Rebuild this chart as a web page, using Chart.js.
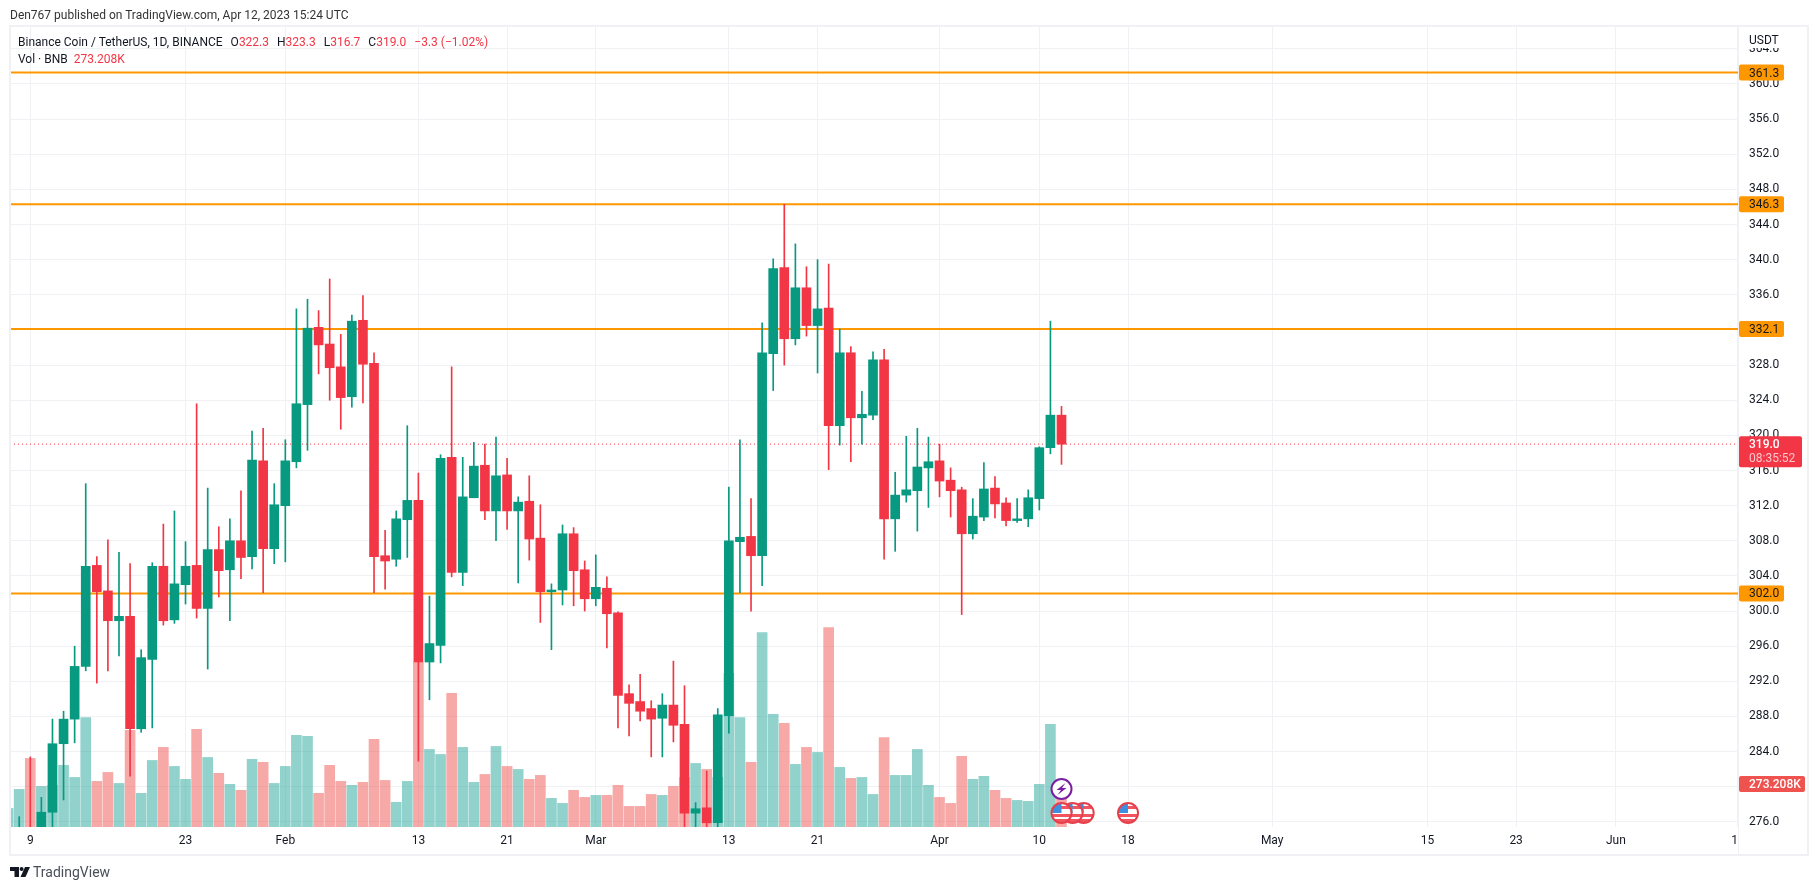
<!DOCTYPE html>
<html>
<head>
<meta charset="utf-8">
<title>BNBUSDT 1D</title>
<script src="https://cdn.jsdelivr.net/npm/chart.js@4/dist/chart.umd.min.js"></script>
<style>
  html, body { margin: 0; padding: 0; background: #fff; width: 1819px; height: 890px; overflow: hidden; }
  body { position: relative; font-family: Roboto, sans-serif; color: #131722; }
  #wrap { position: absolute; left: 0; top: 0; width: 1819px; height: 890px; }
  .txt { position: absolute; white-space: nowrap; font-size: 12px; line-height: 14px; }
  .red { color: #F23645; }
  #legend1 span { margin-left: 8px; }
  #logo { position: absolute; left: 10px; top: 867px; }
  #logoText { position: absolute; left: 33px; top: 864px; font-size: 14px; line-height: 16px; color: #4a4e59; }
</style>
</head>
<body>
<div id="wrap"><canvas id="chart" width="1819" height="890"></canvas></div>
<div class="txt" style="left:10px;top:8px;color:#333">Den767 published on TradingView.com, Apr 12, 2023 15:24 UTC</div>
<div class="txt" id="legend1" style="left:18px;top:35px">Binance Coin / TetherUS, 1D, BINANCE<span>O<b class="red" style="font-weight:400">322.3</b></span><span>H<b class="red" style="font-weight:400">323.3</b></span><span>L<b class="red" style="font-weight:400">316.7</b></span><span>C<b class="red" style="font-weight:400">319.0</b></span><span class="red">−3.3 (−1.02%)</span></div>
<div class="txt" style="left:18px;top:52px">Vol · BNB <span class="red" style="margin-left:3px">273.208K</span></div>
<svg id="logo" width="20" height="10" viewBox="0 0 20 10"><path fill="#131722" d="M0 0h9v10H4.5V4H0z"/><circle fill="#131722" cx="11.6" cy="2" r="2"/><path fill="#131722" d="M15 0h5l-4.5 10h-5z"/></svg>
<div id="logoText">TradingView</div>
<script>
// candles by day, first entry is Jan 7, chart days counted from Jan 9
const firstDay = -2;

const opens = [
  274, 274, 275, 275, 277.1, 284.9, 287.7, 293.7, 305.2, 302.3,
  298.9, 299.4, 286.6, 294.5, 305.1, 299, 303, 305.2, 300.3, 307,
  304.7, 308, 306.2, 317.1, 307.1, 312, 317, 323.5, 332.3, 330.4,
  327.8, 324.4, 333.1, 328.2, 306.3, 305.9, 310.4, 312.6, 294.2, 296.1,
  317.5, 304.4, 312.9, 316.6, 311.4, 315.5, 311.4, 312.5, 308.3, 302.2,
  302.4, 308.8, 304.7, 301.4, 302.6, 299.8, 290.6, 289.7, 288.9, 287.8,
  289.3, 287.1, 277, 277.6, 275.9, 288.1, 307.9, 308.5, 306.3, 329.3,
  339.1, 331, 336.8, 332.5, 334.5, 321.1, 329.4, 322, 322.3, 328.6,
  310.5, 313.2, 313.7, 316.3, 317.1, 314.9, 313.8, 308.8, 310.7, 314,
  312.3, 310.3, 310.5, 312.8, 318.6, 322.3
];
const highs = [
  275, 276.6, 283.4, 278.8, 287.7, 288.6, 296, 314.5, 306.2, 308.1,
  306.7, 305.4, 295.6, 305.5, 309.9, 311.4, 307.9, 323.6, 314, 309.6,
  310.5, 313.7, 320.5, 320.8, 314.5, 319.5, 334.4, 335.5, 334.2, 337.8,
  331.5, 333.7, 335.9, 329.4, 309.2, 311.4, 321.1, 315.7, 301.7, 317.8,
  327.8, 317.5, 319.2, 319, 319.8, 317.4, 313, 315.4, 312.1, 303.1,
  309.8, 309.5, 305.7, 306.4, 303.9, 299.9, 291.6, 292.8, 289.8, 290.6,
  294.3, 291.5, 278.2, 281.8, 288.9, 314.1, 319.5, 312.8, 332.8, 340.1,
  346.3, 341.8, 339.2, 340, 339.5, 332.1, 330.1, 325, 329.5, 329.8,
  315.8, 319.9, 320.8, 319.8, 319, 316.3, 314.1, 312.8, 316.9, 315.3,
  312.9, 312.8, 313.8, 318.7, 333, 323.3
];
const lows = [
  273, 273, 273, 274, 275, 278.5, 285, 293.2, 291.8, 293.2,
  294.9, 281.2, 286.2, 286.7, 298.4, 298.6, 300.8, 299.2, 293.4, 301.6,
  298.9, 303.7, 304.8, 302.1, 305.4, 305.6, 316.3, 318.3, 327, 324,
  320.7, 323.2, 323.7, 302.1, 302.5, 305.1, 306.1, 282.9, 289.9, 294.1,
  303.9, 302.9, 312.9, 310.4, 308, 309.3, 303.2, 305.8, 298.7, 295.6,
  300.7, 300.6, 300, 300.6, 295.8, 286.7, 285.8, 287.5, 283.4, 283.4,
  285.1, 275, 275, 275, 275, 286.1, 302.1, 300, 302.9, 325.1,
  328, 330.3, 331.3, 327.1, 316.1, 318.9, 317, 319, 321.8, 305.9,
  306.8, 312.4, 309.1, 311.8, 313, 310.7, 299.6, 308.2, 310.3, 310.6,
  309.7, 310.1, 309.6, 311.5, 317.9, 316.7
];
const closes = [
  274.5, 275, 274, 277.1, 284.9, 287.7, 293.7, 305.1, 302.2, 298.9,
  299.4, 286.6, 294.7, 305.1, 298.9, 303.1, 305.1, 300.3, 307, 304.6,
  308, 306.1, 317.2, 307.1, 312.1, 317.1, 323.6, 332.2, 330.3, 327.7,
  324.3, 333, 328.1, 306.2, 305.7, 310.5, 312.6, 294.2, 296.3, 317.4,
  304.4, 313, 316.5, 311.4, 315.4, 311.4, 312.4, 308.2, 302.2, 302.4,
  308.8, 304.6, 301.4, 302.7, 299.7, 290.4, 289.5, 288.6, 287.7, 289.3,
  287, 277, 277.5, 275.9, 288.2, 308, 308.4, 306.3, 329.4, 339,
  331, 336.8, 332.5, 334.4, 321.1, 329.4, 322, 322.4, 328.6, 310.5,
  313.2, 313.8, 316.4, 317, 314.8, 313.7, 308.8, 310.8, 313.9, 312.2,
  310.3, 310.5, 312.9, 318.6, 322.3, 319
];
// volume in thousands of BNB
const volumes = [
  118, 239, 436, 258, 265, 392, 315, 696, 290, 347,
  277, 614, 214, 423, 506, 385, 303, 620, 442, 341,
  271, 233, 430, 411, 277, 385, 582, 576, 214, 392,
  290, 265, 284, 557, 296, 157, 290, 1048, 493, 461,
  849, 506, 284, 334, 512, 385, 366, 303, 328, 182,
  150, 233, 188, 201, 201, 265, 131, 131, 207, 201,
  258, 315, 404, 366, 315, 976, 696, 411, 1236, 716,
  658, 398, 506, 474, 1268, 379, 309, 315, 207, 569,
  328, 328, 493, 265, 188, 150, 449, 303, 322, 233,
  182, 169, 163, 271, 652, 273.208
];

const levels = [361.3, 346.3, 332.1, 302.0];
const lastPrice = 319.0;
const lastVolume = 273.208;

const priceTicks = [276, 280, 284, 288, 292, 296, 300, 304, 308, 312, 316, 320, 324,
  328, 332, 336, 340, 344, 348, 352, 356, 360, 364];
const timeTicks = [0, 14, 23, 35, 43, 51, 63, 71, 82, 91, 99, 112, 126, 134, 143, 154];
const timeLabels = ['9', '23', 'Feb', '13', '21', 'Mar', '13', '21', 'Apr', '10', '18', 'May', '15', '23', 'Jun', '12'];

// economic calendar markers (day index)
const flagDays = [95, 94, 93, 99];
const boltDays = [93];

const xMin = -1.83, xMax = 154.01;
const GREEN = '#089981', RED = '#F23645', ORANGE = '#FF9800', GRID = '#F0F1F4';

const dayOf = i => firstDay + i;
const isUp = i => closes[i] >= opens[i];

const volumeData = volumes.map((v, i) => ({ x: dayOf(i), y: v }));
const wickData = highs.map((h, i) => ({ x: dayOf(i), y: [lows[i], h] }));
const bodyData = opens.map((o, i) => ({ x: dayOf(i), y: [o, closes[i]] }));

const levelSets = levels.map(l => ({
  type: 'line', data: [{ x: xMin, y: l }, { x: xMax, y: l }],
  borderColor: ORANGE, borderWidth: 2, pointRadius: 0, order: 4, yAxisID: 'y'
}));

function priceBox(ctx, x, y, w, h, fill) {
  ctx.fillStyle = fill;
  ctx.beginPath();
  ctx.roundRect(x, y, w, h, 2);
  ctx.fill();
}

function drawFlag(ctx, x, y) {
  ctx.save();
  ctx.beginPath();
  ctx.arc(x, y, 10, 0, Math.PI * 2);
  ctx.fillStyle = '#fff';
  ctx.fill();
  ctx.clip();
  ctx.fillStyle = '#F2555F';
  ctx.fillRect(x - 10, y - 7, 20, 3);
  ctx.fillRect(x - 10, y + 1, 20, 3);
  ctx.fillRect(x - 10, y + 6, 20, 3);
  ctx.fillStyle = '#3D8FE0';
  ctx.fillRect(x - 10, y - 10, 10, 10);
  ctx.restore();
  ctx.beginPath();
  ctx.arc(x, y, 10, 0, Math.PI * 2);
  ctx.strokeStyle = '#E5404C';
  ctx.lineWidth = 2;
  ctx.stroke();
}

function drawBolt(ctx, x, y) {
  ctx.beginPath();
  ctx.arc(x, y, 10, 0, Math.PI * 2);
  ctx.fillStyle = '#fff';
  ctx.fill();
  ctx.strokeStyle = '#7B1FA2';
  ctx.lineWidth = 2;
  ctx.stroke();
  ctx.fillStyle = '#7B1FA2';
  ctx.beginPath();
  ctx.moveTo(x + 4, y - 6);
  ctx.lineTo(x - 5, y + 1);
  ctx.lineTo(x - 0.5, y + 1);
  ctx.lineTo(x - 4, y + 6);
  ctx.lineTo(x + 5, y - 1);
  ctx.lineTo(x + 0.5, y - 1);
  ctx.closePath();
  ctx.fill();
}

const overlay = {
  id: 'overlay',
  afterDraw(chart) {
    const ctx = chart.ctx, area = chart.chartArea;
    const sx = chart.scales.x, sy = chart.scales.y, sv = chart.scales.yVol;
    const axisRight = chart.width - 11, axisBottom = area.bottom + 28;

    // events sit on the bottom edge of the pane
    flagDays.forEach(d => drawFlag(ctx, sx.getPixelForValue(d), area.bottom - 14));
    boltDays.forEach(d => drawBolt(ctx, sx.getPixelForValue(d), area.bottom - 38));

    // hide whatever runs past the pane, top tick goes under the currency label
    ctx.fillStyle = '#fff';
    ctx.fillRect(area.right, area.bottom + 1, 60, 27);
    ctx.fillRect(area.right + 1, area.top, 68, 22);

    ctx.strokeStyle = GRID;
    ctx.lineWidth = 2;
    ctx.strokeRect(area.left, area.top, axisRight - area.left, axisBottom - area.top);
    ctx.lineWidth = 1;
    ctx.beginPath();
    ctx.moveTo(area.right + 0.5, area.top);
    ctx.lineTo(area.right + 0.5, axisBottom);
    ctx.stroke();

    ctx.font = '12px Roboto, sans-serif';
    ctx.textBaseline = 'middle';
    ctx.textAlign = 'left';
    ctx.fillStyle = '#131722';
    ctx.fillText('USDT', area.right + 11, 41);

    levels.forEach(l => {
      const y = sy.getPixelForValue(l);
      priceBox(ctx, area.right + 1, y - 8, 45, 16, ORANGE);
      ctx.fillStyle = '#131722';
      ctx.fillText(l.toFixed(1), area.right + 11, y + 1);
    });

    const yLast = sy.getPixelForValue(lastPrice);
    priceBox(ctx, area.right + 1, yLast - 8, 63, 31, RED);
    ctx.fillStyle = '#fff';
    ctx.font = '500 12px Roboto, sans-serif';
    ctx.fillText(lastPrice.toFixed(1), area.right + 11, yLast + 1);
    ctx.fillStyle = '#FCC6CB';
    ctx.font = '12px Roboto, sans-serif';
    ctx.fillText('08:35:52', area.right + 11, yLast + 15);

    const yVol = sv.getPixelForValue(lastVolume);
    priceBox(ctx, area.right + 1, yVol - 8, 66, 16, '#EF5350');
    ctx.fillStyle = '#fff';
    ctx.font = '500 12px Roboto, sans-serif';
    ctx.fillText('273.208K', area.right + 11, yVol + 1);
  }
};

Chart.defaults.font.family = 'Roboto, sans-serif';
Chart.defaults.font.size = 12;
Chart.defaults.color = '#131722';

new Chart(document.getElementById('chart').getContext('2d'), {
  type: 'bar',
  data: {
    datasets: [
      {
        data: volumeData, yAxisID: 'yVol', grouped: false, barThickness: 10, order: 5,
        backgroundColor: volumes.map((v, i) => isUp(i) ? 'rgba(38,166,154,0.5)' : 'rgba(239,83,80,0.5)')
      },
      ...levelSets,
      {
        type: 'line', data: [{ x: xMin, y: lastPrice }, { x: xMax, y: lastPrice }],
        borderColor: RED, borderWidth: 1, borderDash: [1, 3], pointRadius: 0, order: 4, yAxisID: 'y'
      },
      {
        data: wickData, yAxisID: 'y', grouped: false, barThickness: 1, order: 2,
        backgroundColor: highs.map((h, i) => isUp(i) ? GREEN : RED)
      },
      {
        data: bodyData, yAxisID: 'y', grouped: false, barThickness: 9, order: 1,
        backgroundColor: opens.map((o, i) => isUp(i) ? GREEN : RED)
      }
    ]
  },
  options: {
    responsive: false,
    animation: false,
    layout: { padding: { left: 10, top: 26, right: 11, bottom: 35 } },
    plugins: { legend: { display: false }, tooltip: { enabled: false } },
    scales: {
      x: {
        type: 'linear', min: xMin, max: xMax, offset: false,
        grid: { color: GRID, offset: false, drawTicks: false },
        border: { display: false },
        afterBuildTicks: s => { s.ticks = timeTicks.map(v => ({ value: v })); },
        afterFit: s => { s.height = 28; },
        ticks: {
          autoSkip: false, maxRotation: 0, padding: 7,
          callback: (v, i) => timeLabels[i]
        }
      },
      y: {
        position: 'right', min: 275.42, max: 366.6,
        grid: { color: GRID, drawTicks: false },
        border: { display: false },
        afterBuildTicks: s => { s.ticks = priceTicks.map(v => ({ value: v })); },
        afterFit: s => { s.width = 70; },
        ticks: { autoSkip: false, padding: 11, callback: v => v.toFixed(1) }
      },
      yVol: { display: false, position: 'left', min: 0, max: 5090 }
    }
  },
  plugins: [overlay]
});
</script>
</body>
</html>
